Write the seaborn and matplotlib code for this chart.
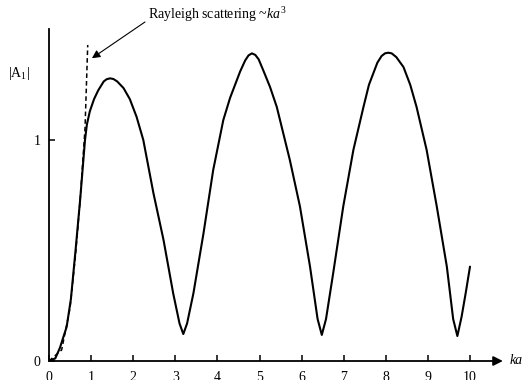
import matplotlib
matplotlib.use("Agg")
import matplotlib.pyplot as plt
import seaborn as sns
import pandas as pd

# Data
ka = [0.00, 0.15, 0.26, 0.42, 0.52, 0.63, 0.74, 0.855, 0.90, 0.97, 1.07, 1.17, 1.30, 1.37, 1.45, 1.53,
      1.62, 1.77, 1.92, 2.08, 2.24, 2.48, 2.72, 2.95, 3.10, 3.19, 3.28, 3.43, 3.67, 3.90, 4.14,
      4.30, 4.42, 4.54, 4.66, 4.74, 4.82, 4.90, 4.98, 5.09, 5.25, 5.41, 5.72, 5.96, 6.20, 6.38,
      6.48, 6.58, 6.75, 6.99, 7.23, 7.47, 7.60, 7.70, 7.80, 7.90, 7.98, 8.06, 8.14, 8.25, 8.42,
      8.58, 8.73, 8.97, 9.21, 9.45, 9.60, 9.70, 9.80, 9.90, 10.0]
A1 = [0.000, 0.012, 0.060, 0.155, 0.280, 0.500, 0.730, 1.000, 1.070, 1.130, 1.185, 1.225, 1.265, 1.275, 1.279, 1.276,
      1.265, 1.235, 1.185, 1.105, 1.000, 0.760, 0.548, 0.306, 0.170, 0.122, 0.170, 0.306, 0.578, 0.864, 1.090,
      1.190, 1.250, 1.310, 1.360, 1.383, 1.392, 1.385, 1.365, 1.315, 1.240, 1.150, 0.910, 0.700, 0.427, 0.190,
      0.118, 0.190, 0.397, 0.700, 0.955, 1.150, 1.250, 1.300, 1.350, 1.380, 1.392, 1.395, 1.392, 1.375, 1.330,
      1.250, 1.150, 0.955, 0.700, 0.427, 0.190, 0.113, 0.200, 0.310, 0.427]

ka_rayleigh = [0.0, 0.30, 0.50, 0.63, 0.74, 0.855, 0.92]
A_rayleigh = [0.0, 0.05, 0.24, 0.48, 0.73, 1.05, 1.43]

xticks = [0, 1, 2, 3, 4, 5, 6, 7, 8, 9, 10]
yticks = [0, 1]

sns.set_theme(style="white")
plt.rcParams["font.family"] = ["Liberation Serif", "DejaVu Serif"]
plt.rcParams["mathtext.fontset"] = "custom"
plt.rcParams["mathtext.rm"] = "Liberation Serif"
plt.rcParams["mathtext.it"] = "Liberation Serif:italic"

W, H = 523, 380
fig = plt.figure(figsize=(W / 100, H / 100), dpi=100)
left_px, right_px, top_px, bottom_px = 49, 505, 29, 361
ax = fig.add_axes([left_px / W, 1 - bottom_px / H, (right_px - left_px) / W, (bottom_px - top_px) / H])

df = pd.DataFrame({"ka": ka, "A1": A1})
dr = pd.DataFrame({"ka": ka_rayleigh, "A": A_rayleigh})
sns.lineplot(data=df, x="ka", y="A1", ax=ax, color="black", lw=1.5, sort=False)
sns.lineplot(data=dr, x="ka", y="A", ax=ax, color="black", lw=1.1, linestyle=(0, (3, 2)), sort=False)

xmax = (right_px - left_px) / 42.1
ax.set_xlim(0, xmax)
ax.set_ylim(0, (bottom_px - top_px) / 221)
ax.set_xlabel("")
ax.set_ylabel("")

for s in ["top", "right", "bottom"]:
    ax.spines[s].set_visible(False)
ax.spines["left"].set_color("black")
ax.spines["left"].set_linewidth(1.3)

ax.annotate("", xy=(xmax - 0.05, 0), xytext=(0, 0), xycoords="data",
            arrowprops=dict(arrowstyle="-|>", color="black", lw=1.3, mutation_scale=14,
                            shrinkA=0, shrinkB=0), annotation_clip=False)

ax.set_xticks(xticks)
ax.set_xticklabels([str(t) for t in xticks])
ax.set_yticks(yticks)
ax.set_yticklabels([str(t) for t in yticks])
ax.tick_params(axis="both", direction="in", length=4, width=1.1, color="black",
               labelsize=10, labelcolor="black", bottom=True, left=True)
ax.tick_params(axis="x", pad=7)
ax.tick_params(axis="y", pad=6)

# Rayleigh annotation
ax.annotate("", xy=(1.02, 1.37), xytext=(2.28, 1.534), xycoords="data",
            arrowprops=dict(arrowstyle="-|>", color="black", lw=0.8, mutation_scale=12,
                            shrinkA=0, shrinkB=0), annotation_clip=False)
ax.text(2.35, 1.548, r"Rayleigh scattering ~$ka^3$", fontsize=10, color="black",
        ha="left", va="baseline", clip_on=False)

fig.text(19 / W, 1 - 73 / H, r"|A$_1$|", fontsize=10, color="black", ha="center", va="center")
fig.text(510 / W, 1 - 361 / H, "ka", fontsize=10, style="italic", color="black", ha="left", va="center")

fig.savefig("out.png", dpi=100)
